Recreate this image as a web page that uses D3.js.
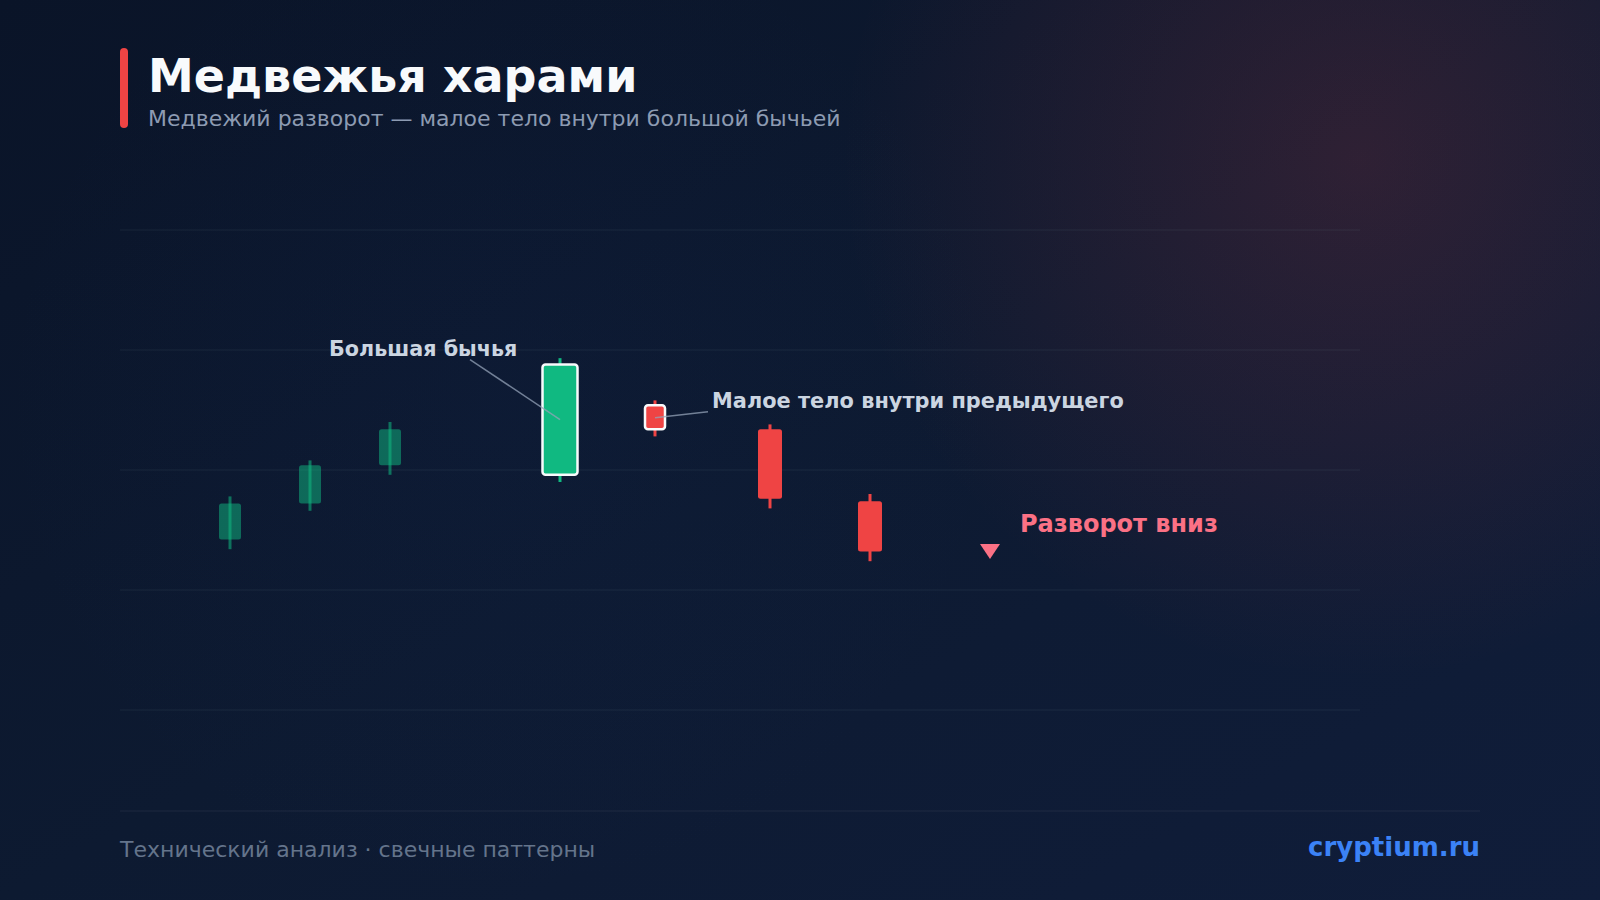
<!DOCTYPE html>
<html>
<head>
<meta charset="utf-8">
<script src="https://cdn.jsdelivr.net/npm/d3@7"></script>
<style>
  html, body { margin: 0; padding: 0; background: #0b1629; }
  svg { display: block; }
</style>
</head>
<body>
<svg id="chart" width="1600" height="900"></svg>
<script>
// ---- data ----
const candleTimes  = [11, 19, 27, 44, 53.5, 65, 75];
const candleOpen   = [35.5, 43, 51, 49, 63.5, 58.5, 43.5];
const candleClose  = [43, 51, 58.5, 72, 58.5, 44, 33];
const candleHigh   = [44.5, 52, 60, 73.3, 64.5, 59.5, 45];
const candleLow    = [33.5, 41.5, 49, 47.5, 57, 42, 31];
const candleRole   = ["trend", "trend", "trend", "mother", "harami", "confirm", "confirm"];
const gridValues   = [0, 25, 50, 75, 100];
const markerTime   = 87;
const markerPrice  = 33;

const titleText    = "Медвежья харами";
const subtitleText = "Медвежий разворот — малое тело внутри большой бычьей";
const note1Text    = "Большая бычья";
const note2Text    = "Малое тело внутри предыдущего";
const note3Text    = "Разворот вниз";
const footerLeft   = "Технический анализ · свечные паттерны";
const footerRight  = "cryptium.ru";

// ---- setup ----
const W = 1600, H = 900;
const svg = d3.select("#chart");
const defs = svg.append("defs");
const FONT = "'DejaVu Sans', sans-serif";

const bg = defs.append("linearGradient").attr("id", "bg")
  .attr("x1", "0").attr("y1", "0").attr("x2", "1").attr("y2", "1");
bg.append("stop").attr("offset", "0%").attr("stop-color", "#0a1428");
bg.append("stop").attr("offset", "50%").attr("stop-color", "#0d1a31");
bg.append("stop").attr("offset", "100%").attr("stop-color", "#101d3a");

const glow = defs.append("radialGradient").attr("id", "glow")
  .attr("gradientUnits", "userSpaceOnUse").attr("cx", 1360).attr("cy", 160).attr("r", 520);
glow.append("stop").attr("offset", "0%").attr("stop-color", "#ef4444").attr("stop-opacity", 0.15);
glow.append("stop").attr("offset", "55%").attr("stop-color", "#ef4444").attr("stop-opacity", 0.07);
glow.append("stop").attr("offset", "100%").attr("stop-color", "#ef4444").attr("stop-opacity", 0);

const glow2 = defs.append("radialGradient").attr("id", "glow2")
  .attr("gradientUnits", "userSpaceOnUse").attr("cx", 500).attr("cy", 400).attr("r", 500);
glow2.append("stop").attr("offset", "0%").attr("stop-color", "#1e3a8a").attr("stop-opacity", 0.06);
glow2.append("stop").attr("offset", "100%").attr("stop-color", "#1e3a8a").attr("stop-opacity", 0);

svg.append("rect").attr("width", W).attr("height", H).attr("fill", "url(#bg)");
svg.append("rect").attr("width", W).attr("height", H).attr("fill", "url(#glow2)");
svg.append("rect").attr("width", W).attr("height", H).attr("fill", "url(#glow)");

// ---- header ----
svg.append("rect").attr("x", 120).attr("y", 48).attr("width", 8).attr("height", 80)
  .attr("rx", 4).attr("fill", "#ef4444");
svg.append("text").attr("x", 148).attr("y", 92)
  .attr("font-family", FONT).attr("font-weight", "bold").attr("font-size", 46)
  .attr("fill", "#f8fafc").text(titleText);
svg.append("text").attr("x", 148).attr("y", 126)
  .attr("font-family", FONT).attr("font-size", 22)
  .attr("fill", "#8d9bb2").text(subtitleText);

// ---- scales ----
const x = d3.scaleLinear().domain([0, 124]).range([120, 1360]);
const y = d3.scaleLinear().domain([0, 100]).range([710, 230]);

// grid
svg.append("g").selectAll("line").data(gridValues).join("line")
  .attr("x1", x(0)).attr("x2", x(124))
  .attr("y1", d => y(d)).attr("y2", d => y(d))
  .attr("stroke", "#94a3b8").attr("stroke-opacity", 0.07).attr("stroke-width", 1.5);

const candles = candleTimes.map((t, i) => ({
  t, o: candleOpen[i], c: candleClose[i], h: candleHigh[i], l: candleLow[i], role: candleRole[i]
}));

const GREEN = "#10b981", RED = "#ef4444";
const widthFor = r => r === "trend" ? 22 : r === "mother" ? 35 : r === "harami" ? 20 : 24;

const g = svg.append("g");
candles.forEach(d => {
  const col = d.c >= d.o ? GREEN : RED;
  const faded = d.role === "trend";
  const w = widthFor(d.role);
  const top = y(Math.max(d.o, d.c)), bot = y(Math.min(d.o, d.c));
  const outlined = d.role === "mother" || d.role === "harami";
  const wick = () => g.append("line")
    .attr("x1", x(d.t)).attr("x2", x(d.t))
    .attr("y1", y(d.h)).attr("y2", y(d.l))
    .attr("stroke", col).attr("stroke-width", 3)
    .attr("stroke-opacity", faded ? 0.55 : 1);
  if (!faded) wick();
  g.append("rect")
    .attr("x", x(d.t) - w / 2).attr("width", w)
    .attr("y", top).attr("height", bot - top)
    .attr("rx", outlined ? 3 : 2.5)
    .attr("fill", col).attr("fill-opacity", faded ? 0.5 : 1)
    .attr("stroke", outlined ? "#f8fafc" : "none")
    .attr("stroke-width", outlined ? 2.5 : 0);
  if (faded) wick();
});

// leader lines + annotations
const mother = candles[3], harami = candles[4];
svg.append("line")
  .attr("x1", x(mother.t) - 90).attr("y1", y(73))
  .attr("x2", x(mother.t)).attr("y2", y((mother.o + mother.c) / 2))
  .attr("stroke", "#94a3b8").attr("stroke-opacity", 0.75).attr("stroke-width", 1.5);
svg.append("text").attr("x", 329).attr("y", 356)
  .attr("font-family", FONT).attr("font-weight", "bold").attr("font-size", 20.7)
  .attr("fill", "#cbd5e1").text(note1Text);

svg.append("line")
  .attr("x1", x(harami.t)).attr("y1", y((harami.o + harami.c) / 2) + 0.5)
  .attr("x2", x(harami.t) + 53).attr("y2", y((harami.o + harami.c) / 2) - 5.5)
  .attr("stroke", "#94a3b8").attr("stroke-opacity", 0.75).attr("stroke-width", 1.5);
svg.append("text").attr("x", 712).attr("y", 408)
  .attr("font-family", FONT).attr("font-weight", "bold").attr("font-size", 20.9)
  .attr("fill", "#cbd5e1").text(note2Text);

// reversal marker
const mx = x(markerTime), my = y(markerPrice);
svg.append("path")
  .attr("d", d3.line()([[mx - 10, my - 7.5], [mx + 10, my - 7.5], [mx, my + 7.5]]) + "Z")
  .attr("fill", "#fb7185");
svg.append("text").attr("x", 1020).attr("y", 532)
  .attr("font-family", FONT).attr("font-weight", "bold").attr("font-size", 24)
  .attr("fill", "#fb7185").text(note3Text);

// footer
svg.append("line").attr("x1", 120).attr("x2", 1480).attr("y1", 811).attr("y2", 811)
  .attr("stroke", "#94a3b8").attr("stroke-opacity", 0.08).attr("stroke-width", 1.5);
svg.append("text").attr("x", 120).attr("y", 857)
  .attr("font-family", FONT).attr("font-size", 22)
  .attr("fill", "#64748b").text(footerLeft);
svg.append("text").attr("x", 1480).attr("y", 856).attr("text-anchor", "end")
  .attr("font-family", FONT).attr("font-weight", "bold").attr("font-size", 26)
  .attr("fill", "#3b82f6").text(footerRight);
</script>
</body>
</html>
